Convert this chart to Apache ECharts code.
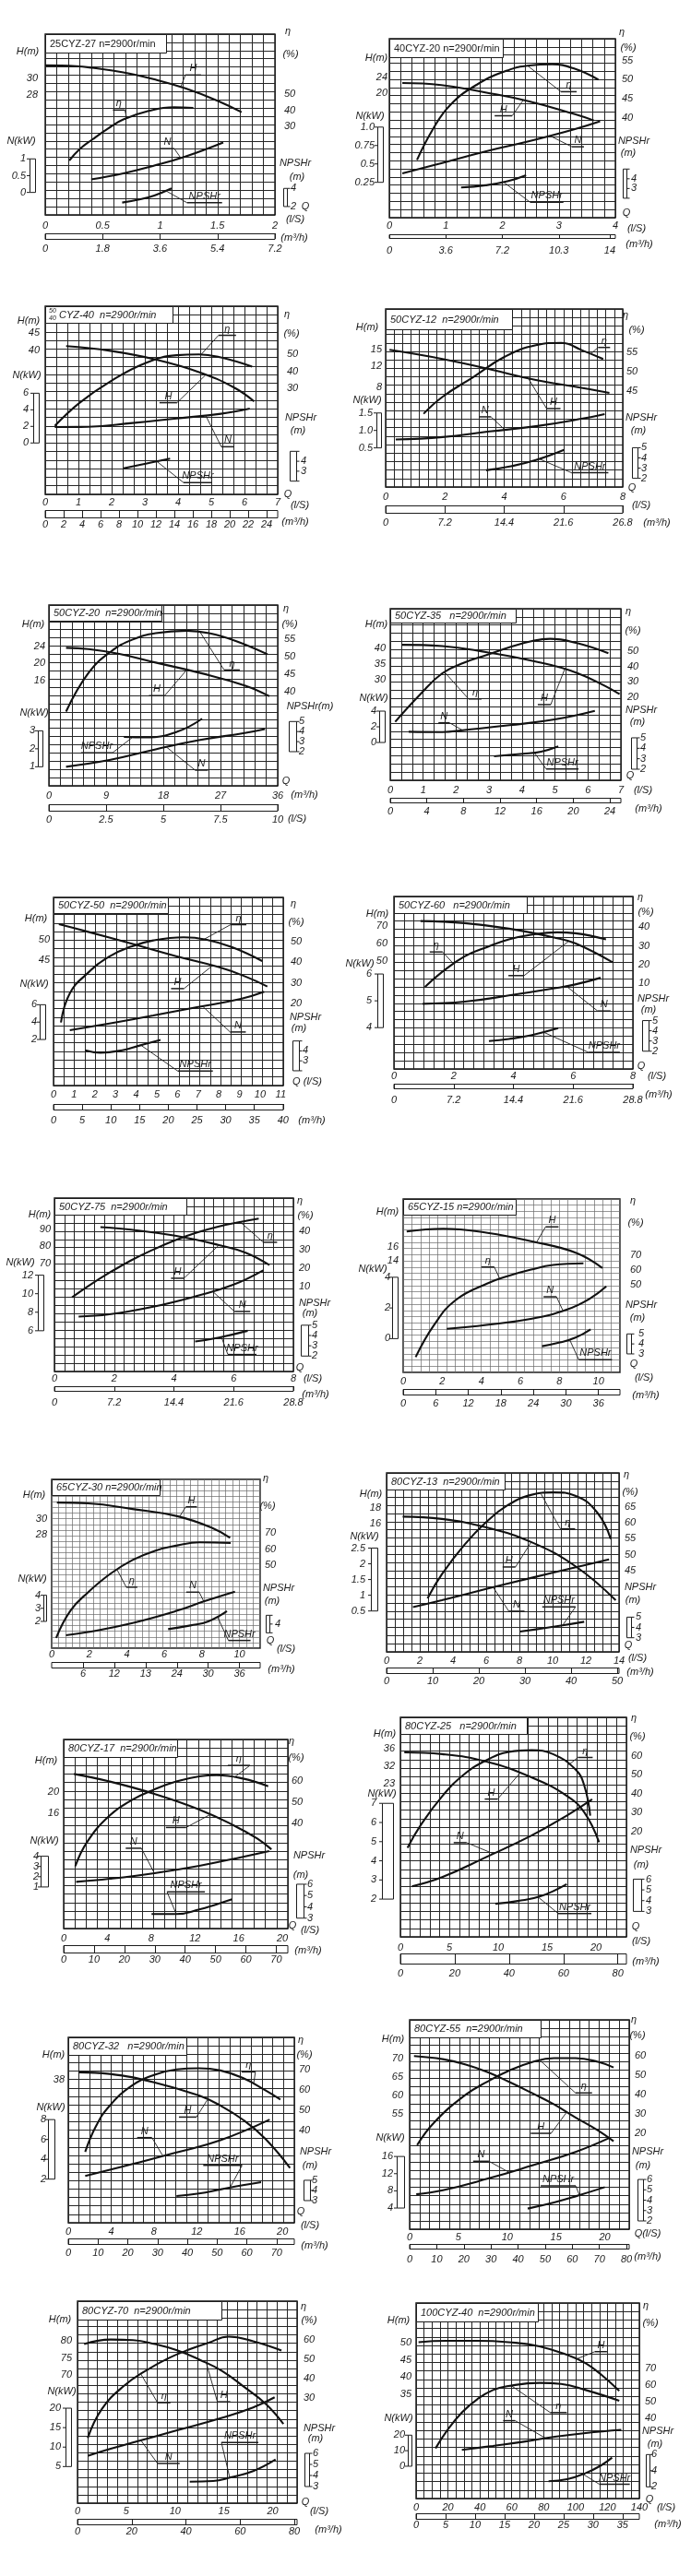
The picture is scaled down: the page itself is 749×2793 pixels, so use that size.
<!DOCTYPE html>
<html><head><meta charset="utf-8">
<script src="https://cdn.jsdelivr.net/npm/echarts@6/dist/echarts.min.js"></script>
<style>html,body{margin:0;padding:0;background:#fff}#c{width:749px;height:2793px}</style>
</head><body><div id="c"></div>
<script>
// ================= DATA =================
const TITLES=['25CYZ-27 n=2900r/min','40CYZ-20 n=2900r/min','CYZ-40  n=2900r/min','50CYZ-12  n=2900r/min','50CYZ-20  n=2900r/min','50CYZ-35   n=2900r/min','50CYZ-50  n=2900r/min','50CYZ-60   n=2900r/min','50CYZ-75  n=2900r/min','65CYZ-15 n=2900r/min','65CYZ-30 n=2900r/min','80CYZ-13  n=2900r/min','80CYZ-17  n=2900r/min','80CYZ-25   n=2900r/min','80CYZ-32   n=2900r/min','80CYZ-55  n=2900r/min','80CYZ-70  n=2900r/min','100CYZ-40  n=2900r/min'];

// 1 25CYZ-27
const q1=[0,0.5,1,1.5,2], m1=[0,1.8,3.6,5.4,7.2], hk1=[28,30], ek1=[30,40,50], nk1=[0,0.5,1], pk1=[2,4];
const H1=[[0,31.6],[0.27,31.5],[0.41,31.3],[0.68,30.75],[0.95,29.9],[1.22,28.8],[1.5,27.3],[1.71,25.9]];
const E1=[[0.21,9],[0.3,16],[0.41,22],[0.55,29],[0.68,34.4],[0.9,39.7],[1.12,42],[1.29,41.6]];
const N1=[[0.4,0.39],[0.68,0.57],[0.95,0.8],[1.22,1.07],[1.55,1.49]];
const P1=[[0.67,2.44],[0.82,2.78],[0.95,3.22],[1.1,4.0]];
// 2 40CYZ-20
const q2=[0,1,2,3,4], m2=[[0,'0'],[1,'3.6'],[2,'7.2'],[3,'10.3'],[3.9,'14']], hk2=[20,24], ek2=[40,45,50,55], nk2=[0.25,0.5,0.75,[1,'1.0']], pk2=[2,3,4,5];
const H2=[[0.23,22.5],[0.92,22.0],[1.7,20.2],[2.48,18.0],[3.27,14.9],[3.62,13.3]];
const E2=[[0.49,29],[0.77,37],[1.08,43.4],[1.55,48.7],[2.09,52.4],[2.48,53.7],[2.88,54.0],[3.27,52.9],[3.7,50.0]];
const N2=[[0.23,0.37],[0.92,0.51],[1.7,0.67],[2.48,0.81],[3.27,0.97],[3.73,1.08]];
const P2=[[1.27,3.1],[1.7,3.33],[2.09,3.74],[2.42,4.37]];
// 3 50/40CYZ-40
const q3=[0,1,2,3,4,5,6,7], m3=[0,2,4,6,8,10,12,14,16,18,20,22,24], hk3=[40,45], ek3=[30,40,50], nk3=[0,2,4,6], pk3=[2,3,4,5];
const H3=[[0.63,41.2],[1.96,39.8],[3.29,37.3],[4.63,33.5],[5.69,28.9],[6.29,24.8]];
const E3=[[0.29,8],[1.03,21.5],[1.96,34.1],[3.03,45],[3.96,49.5],[4.63,50],[5.29,48.2],[6.23,42.8]];
const N3=[[0.29,1.93],[1.29,1.95],[2.63,2.41],[3.96,2.96],[5.29,3.52],[6.16,4.15]];
const P3=[[2.36,3.3],[3.03,3.76],[3.76,4.26]];
// 4 50CYZ-12
const q4=[0,2,4,6,8], m4=[[0,'0'],[2,'7.2'],[4,'14.4'],[6,'21.6'],[8,'26.8']], hk4=[8,12,15], ek4=[45,50,55], nk4=[0.5,[1,'1.0'],1.5], pk4=[2,3,4,5];
const H4=[[0.13,15],[1.92,13.3],[3.5,11.4],[5.07,9.4],[6.65,7.9],[7.55,7.0]];
const E4=[[1.28,39],[1.92,43.4],[2.97,48.6],[4.02,53.8],[5.07,56.8],[5.92,57.4],[6.65,55.4],[7.34,53.2]];
const N4=[[0.34,0.74],[1.92,0.81],[3.5,0.97],[5.07,1.12],[6.65,1.34],[7.39,1.47]];
const P4=[[3.39,2.79],[4.23,3.18],[5.07,3.79],[6.02,4.79]];
// 5 50CYZ-20 (primary x in m3/h)
const q5=[0,9,18,27,36], m5=[0,2.5,5,7.5,10], hk5=[16,20,24], ek5=[40,45,50,55], nk5=[1,2,3], pk5=[2,3,4,5];
const H5=[[2.7,23.6],[6.2,23.3],[11.1,22.2],[16.8,20.2],[23.8,17.8],[30.8,14.9],[34.7,12.4]];
const E5=[[2.7,34.3],[6.2,45.2],[9.7,51.3],[13.2,54.8],[16.8,56.6],[21.7,57.3],[25.2,56.6],[29.4,54.4],[34.4,50.6]];
const N5=[[2.7,1.0],[9.7,1.39],[16.8,1.97],[23.8,2.49],[30.8,2.88],[34.0,3.1]];
const P5=[[11.8,3.47],[15.3,3.42],[20.2,3.99],[24.1,5.28]];
// 6 50CYZ-35
const q6=[0,1,2,3,4,5,6,7], m6=[0,4,8,12,16,20,24], hk6=[30,35,40], ek6=[20,30,40,50], nk6=[0,2,4], pk6=[2,3,4,5];
const H6=[[0.35,41.0],[1.58,40.6],[2.94,38.6],[4.31,35.9],[5.67,32.0],[6.96,25.3]];
const E6=[[0.15,4],[0.9,21.6],[1.58,35.6],[2.26,42.6],[2.94,47.6],[3.62,52.6],[4.31,56.6],[4.85,58],[5.67,55.2],[6.62,48.6]];
const N6=[[0.56,1.37],[1.58,1.33],[2.26,1.6],[3.62,2.2],[4.99,2.94],[6.21,4.04]];
const P6=[[3.15,3.24],[4.03,3.47],[4.58,3.68],[5.1,4.18]];
// 7 50CYZ-50
const q7=[0,1,2,3,4,5,6,7,8,9,10,11], m7=[0,5,10,15,20,25,30,35,40], hk7=[45,50], ek7=[20,30,40,50], nk7=[2,4,6], pk7=[2,3,4,5];
const H7=[[0.26,53.7],[1.64,51.9],[3.76,49.0],[5.89,46.0],[8.0,43.3],[9.3,41.0],[10.35,38.6]];
const E7=[[0.36,10.7],[0.79,24.9],[1.64,34.6],[2.7,42.8],[3.76,47.6],[4.83,50.6],[6.3,52.1],[7.38,51.0],[8.65,47.3],[10.1,40.6]];
const N7=[[0.79,3.06],[2.7,3.84],[4.83,4.76],[6.95,5.72],[9.07,6.67],[10.2,7.49]];
const P7=[[1.53,4.07],[2.27,3.82],[3.33,4.07],[4.17,4.54],[5.18,5.1]];
// 8 50CYZ-60
const q8=[0,2,4,6,8], m8=[0,7.2,14.4,21.6,28.8], hk8=[50,60,70], ek8=[10,20,30,40], nk8=[4,5,6], pk8=[2,3,4,5];
const H8=[[0.89,73],[2.37,71.8],[3.85,68.6],[5.33,63.6],[6.07,60.1],[7.32,49.1]];
const E8=[[1.04,8],[1.63,16.2],[2.37,24.4],[3.11,29.3],[3.85,33.4],[4.59,35.9],[5.47,37.2],[6.07,36.7],[7.1,33.4]];
const N8=[[0.96,4.89],[2.37,4.97],[3.85,5.2],[5.33,5.46],[6.07,5.61],[6.92,5.86]];
const P8=[[3.18,2.99],[3.85,3.2],[4.59,3.56],[5.5,4.25]];
// 9 50CYZ-75
const q9=[0,2,4,6,8], m9=[0,7.2,14.4,21.6,28.8], hk9=[70,80,90], ek9=[10,20,30,40], nk9=[6,8,10,12], pk9=[2,3,4,5];
const H9=[[1.54,91.1],[2.57,89.6],[4.04,86.1],[5.51,80.7],[6.4,76.3],[7.2,69.1]];
const E9=[[0.59,4.2],[1.1,10],[1.84,17.5],[2.57,24.2],[3.31,30],[4.04,35],[4.78,39.2],[5.51,42.5],[6.25,45],[6.84,46.7]];
const N9=[[0.81,7.53],[1.84,7.77],[3.31,8.6],[4.78,9.77],[5.96,10.93],[6.99,12.53]];
const P9=[[4.71,3.41],[5.51,3.8],[6.47,4.46]];
// 10 65CYZ-15
const q10=[0,2,4,6,8,10], m10=[0,6,12,18,24,30,36], hk10=[14,16], ek10=[50,60,70], nk10=[0,2,4], pk10=[3,4,5];
const H10=[[0.18,18.2],[2.05,18.6],[4.32,18.0],[6.6,16.76],[8.86,15.1],[10.2,12.9]];
const E10=[[0.64,0.6],[1.59,22.5],[2.68,39.2],[4.32,50.6],[5.41,55.8],[6.55,60],[7.68,63.1],[9.23,64.2]];
const N10=[[2.23,0.64],[4.27,0.9],[6.6,1.3],[8.4,1.9],[9.55,2.6],[10.4,3.4]];
const P10=[[7.11,3.77],[8.02,4.14],[8.82,4.63],[9.6,5.46]];
// 11 65CYZ-30
const q11=[0,2,4,6,8,10], m11=[[1.67,'6'],[3.33,'12'],[5,'13'],[6.67,'24'],[8.33,'30'],[10,'36']], hk11=[28,30], ek11=[50,60,70], nk11=[2,3,4], pk11=[3,4,5];
const H11=[[0.28,32.0],[1.94,31.9],[4.3,31.2],[6.68,30.3],[8.58,28.8],[9.5,27.6]];
const E11=[[0.24,5.2],[1.0,22],[1.94,33.4],[3.13,44.9],[4.31,53.4],[5.5,59.1],[6.68,62.4],[7.87,64.3],[9.53,63.9]];
const N11=[[0.76,0.94],[1.94,1.18],[4.31,1.88],[6.68,2.82],[8.1,3.53],[9.76,4.28]];
const P11=[[6.2,3.42],[7.39,3.84],[8.34,4.3],[9.33,5.46]];
// 12 80CYZ-13
const q12=[0,2,4,6,8,10,12,14], m12=[0,10,20,30,40,50], hk12=[16,18], ek12=[45,50,55,60,65], nk12=[0.5,1,1.5,2,2.5], pk12=[3,4,5];
const H12=[[0.97,16.9],[3.33,16.6],[6.0,15.5],[8.7,13.6],[11.4,10.4],[13.8,6.0]];
const E12=[[2.47,36.3],[3.33,43.8],[4.68,53],[6.0,60.2],[7.3,65.5],[8.7,68.7],[10.05,69.5],[11.4,68.4],[12.7,63.1],[13.5,54.9]];
const N12=[[1.59,0.62],[3.33,0.84],[6.0,1.2],[8.7,1.55],[11.4,1.89],[13.4,2.14]];
const P12=[[8.04,3.6],[9.25,3.87],[10.6,4.2],[11.9,4.55]];
// 13 80CYZ-17
const q13=[0,4,8,12,16,20], m13=[0,10,20,30,40,50,60,70], hk13=[16,20], ek13=[40,50,60], nk13=[1,2,3,4], pk13=[3,4,5,6];
const H13=[[0.94,23.3],[4.2,21.9],[8.3,19.6],[12.4,16.7],[15.6,13.7],[17.7,11.3],[19.0,9.3]];
const E13=[[1.06,19.7],[2.16,31.3],[4.2,43.6],[6.24,50.9],[8.3,55.9],[10.3,59.6],[12.4,62],[14.0,62.6],[16.4,61],[18.7,57.4]];
const N13=[[1.14,1.5],[4.2,1.8],[8.3,2.35],[12.4,3.07],[16.5,3.97],[18.8,4.5]];
const P13=[[8.04,3.36],[10.3,3.36],[12.4,3.77],[14.0,4.23],[15.4,4.66]];
// 14 80CYZ-25
const q14=[0,5,10,15,20], m14=[0,20,40,60,80], hk14=[[28,'23'],32,36], ek14=[20,30,40,50,60], nk14=[2,3,4,5,6,7], pk14=[3,4,5,6];
const H14=[[0.4,35.2],[4.27,34.8],[8.8,33.1],[13.4,29.5],[17.0,25.3],[18.8,21.5],[20.3,14.7]];
const E14=[[0.73,11.4],[2.0,22.8],[4.27,38.6],[6.55,50.3],[8.8,57.6],[11.1,62],[13.4,62.9],[15.6,60.8],[17.9,52.7],[18.8,44.1],[19.4,28.4]];
const N14=[[1.18,2.67],[4.27,3.15],[8.8,4.2],[13.4,5.32],[17.0,6.36],[19.6,7.21]];
const P14=[[9.7,3.71],[12.0,3.97],[14.3,4.4],[17.0,5.54]];
// 15 80CYZ-32
const q15=[0,4,8,12,16,20], m15=[0,10,20,30,40,50,60,70], hk15=[38], ek15=[40,50,60,70], nk15=[2,4,6,8], pk15=[3,4,5];
const H15=[[0.95,38.9],[3.86,38.7],[8.0,37.7],[12.2,36.1],[14.2,34.9],[16.3,33.2],[18.4,30.9],[20.7,27.4]];
const E15=[[1.58,29.4],[2.61,42.3],[3.86,52.1],[5.93,62],[8.0,67.3],[10.1,70],[12.2,70.6],[14.2,69.5],[16.3,65.8],[18.4,59.7],[19.8,55.2]];
const N15=[[1.58,2.32],[5.93,3.5],[10.1,4.68],[14.2,5.92],[18.8,8.0]];
const P15=[[10.1,3.45],[12.2,3.7],[14.2,4.1],[16.3,4.52],[18.0,4.82]];
// 16 80CYZ-55
const q16=[0,5,10,15,20], m16=[0,10,20,30,40,50,60,70,80], hk16=[55,60,65,70], ek16=[20,30,40,50,60], nk16=[4,8,12,16], pk16=[2,3,4,5,6];
const H16=[[0.45,70.6],[3.4,69.75],[5.68,68.35],[7.95,66.3],[10.2,63.65],[12.5,60.7],[14.8,57.6],[17.0,54.1],[19.3,50.6],[20.9,47.7]];
const E16=[[0.77,14],[2.5,25.6],[5.68,39.8],[7.95,46.7],[10.2,52.5],[12.5,56.8],[14.8,58.9],[17.0,58.9],[19.3,57],[20.9,54.1]];
const N16=[[0.68,7.2],[3.4,8.14],[7.95,10.8],[12.5,13.86],[17.0,17.07],[20.45,20.3]];
const P16=[[12.1,3.19],[14.8,3.78],[17.0,4.37],[20.0,5.26]];
// 17 80CYZ-70
const q17=[0,5,10,15,20], m17=[0,20,40,60,80], hk17=[70,75,80], ek17=[30,40,50,60], nk17=[5,10,15,20], pk17=[3,4,5,6];
const H17=[[0.68,79.1],[3.4,80.45],[5.68,80.3],[7.95,79.1],[10.2,77.3],[12.5,74.5],[14.8,71.2],[17.0,66.6],[19.3,61.4],[21.1,55.5]];
const E17=[[1.05,9.3],[2.5,24.4],[4.77,36.4],[7.05,44.4],[9.32,50.7],[11.6,55.5],[13.4,58.7],[15.5,61.9],[18.0,59.5],[20.9,54.7]];
const N17=[[1.05,7.77],[3.4,9.58],[5.68,11.16],[10.2,14.3],[14.8,17.5],[18.0,20.2],[20.2,22.8]];
const P17=[[11.5,3.44],[13.9,3.5],[15.7,3.83],[18.0,4.39],[20.3,5.44]];
// 18 100CYZ-40
const q18=[0,20,40,60,80,100,120,140], m18=[0,5,10,15,20,25,30,35], hk18=[35,40,45,50], ek18=[40,50,60,70], nk18=[0,10,20], pk18=[2,4,6];
const H18=[[1.55,50.2],[19,50.6],[38.4,50.6],[57.9,50.2],[77.3,49],[96.7,46.1],[106.4,44],[116,40.7],[127.4,35.9]];
const E18=[[12.2,21.9],[19,32],[28.7,43.5],[38.4,51.5],[48.2,57],[57.9,59.4],[77.3,61.3],[90.9,60.7],[106.4,57],[127.4,50.6]];
const N18=[[28.7,10.5],[48.2,13.1],[67.6,15.8],[87,19],[106.4,21.4],[128.7,23.4]];
const P18=[[83.1,2.69],[94.8,2.95],[106.4,3.71],[116.1,4.67],[122.9,5.62]];

const CH=[
 {q:q1,m:m1,hk:hk1,ek:ek1,nk:nk1,pk:pk1,H:H1,E:E1,N:N1,P:P1},
 {q:q2,m:m2,hk:hk2,ek:ek2,nk:nk2,pk:pk2,H:H2,E:E2,N:N2,P:P2},
 {q:q3,m:m3,hk:hk3,ek:ek3,nk:nk3,pk:pk3,H:H3,E:E3,N:N3,P:P3},
 {q:q4,m:m4,hk:hk4,ek:ek4,nk:nk4,pk:pk4,H:H4,E:E4,N:N4,P:P4},
 {q:q5,m:m5,hk:hk5,ek:ek5,nk:nk5,pk:pk5,H:H5,E:E5,N:N5,P:P5},
 {q:q6,m:m6,hk:hk6,ek:ek6,nk:nk6,pk:pk6,H:H6,E:E6,N:N6,P:P6},
 {q:q7,m:m7,hk:hk7,ek:ek7,nk:nk7,pk:pk7,H:H7,E:E7,N:N7,P:P7},
 {q:q8,m:m8,hk:hk8,ek:ek8,nk:nk8,pk:pk8,H:H8,E:E8,N:N8,P:P8},
 {q:q9,m:m9,hk:hk9,ek:ek9,nk:nk9,pk:pk9,H:H9,E:E9,N:N9,P:P9},
 {q:q10,m:m10,hk:hk10,ek:ek10,nk:nk10,pk:pk10,H:H10,E:E10,N:N10,P:P10},
 {q:q11,m:m11,hk:hk11,ek:ek11,nk:nk11,pk:pk11,H:H11,E:E11,N:N11,P:P11},
 {q:q12,m:m12,hk:hk12,ek:ek12,nk:nk12,pk:pk12,H:H12,E:E12,N:N12,P:P12},
 {q:q13,m:m13,hk:hk13,ek:ek13,nk:nk13,pk:pk13,H:H13,E:E13,N:N13,P:P13},
 {q:q14,m:m14,hk:hk14,ek:ek14,nk:nk14,pk:pk14,H:H14,E:E14,N:N14,P:P14},
 {q:q15,m:m15,hk:hk15,ek:ek15,nk:nk15,pk:pk15,H:H15,E:E15,N:N15,P:P15},
 {q:q16,m:m16,hk:hk16,ek:ek16,nk:nk16,pk:pk16,H:H16,E:E16,N:N16,P:P16},
 {q:q17,m:m17,hk:hk17,ek:ek17,nk:nk17,pk:pk17,H:H17,E:E17,N:N17,P:P17},
 {q:q18,m:m18,hk:hk18,ek:ek18,nk:nk18,pk:pk18,H:H18,E:E18,N:N18,P:P18}
];

// ================= LAYOUT (pixels, axis ranges, annotations) =================
const K=1/3.6;
const LAY=[
 {r:[49,298,37,233],c:20,w:22,q:[0,2],h:[13.4,35.4],e:[-24.7,87.3],n:[-0.67,4.72],p:[1.08,21.0],hx:41,nx:28,ex:308,px:315,nb:[32,38],pb:[307,311],qy:245,bar:[253,259],my:270,tb:[49,37,180,57],mk:K,up:1,
  nm:[['H(m)',30,56],['N(kW)',23,153],['η',312,34],['(%)',315,59],['NPSHr',320,177],['(m)',322,192],['Q',331,224],['(l/S)',320,238],['(m³/h)',319,258]],
  co:[['H',1.18,5,-13,17,1],['E',0.71,-2,-9,13,-1],['N',1.18,-7,-10,15,-1],['P',1.05,23,13,38,1]]},
 {r:[422,667,42,236],c:20,w:22,q:[0,4],h:[-10.6,33.4],e:[13.9,60.7],n:[-0.23,2.2],p:[0,18.4],hx:420,nx:406,ex:674,px:684,nb:[409,415],pb:[675,679],qy:245,bar:[254,258],my:272,tb:[422,42,545,62],mk:1,up:1,
  nm:[['H(m)',408,63],['N(kW)',401,126],['η',674,35],['(%)',681,52],['NPSHr',687,153],['(m)',681,166],['Q',679,231],['(l/S)',690,248],['(m³/h)',693,265]],
  co:[['E',2.45,36,28,17,1],['H',2.37,-12,17,19,-1],['N',2.84,24,12,13,1],['P',2.02,29,22,36,1]]},
 {r:[49,301,332,536],c:21,w:22,q:[0,7],h:[-2.7,53],e:[-32.2,78.3],n:[-6.2,16.5],p:[0.67,19.6],hx:43,nx:31,ex:311,px:326,nb:[36,42],pb:[314,321],qy:545,bar:[553,561],my:569,tb:[49,332,187,350],mk:K,frac:['50','40'],
  nm:[['H(m)',31,348],['N(kW)',29,407],['η',311,341],['(%)',316,362],['NPSHr',326,453],['(m)',323,467],['Q',312,536],['(l/S)',325,548],['(m³/h)',320,566]],
  co:[['E',4.69,19,-21,19,1],['H',4.83,-31,30,19,-1],['N',4.83,17,34,14,1],['P',3.36,29,23,31,1]]},
 {r:[418,675,335,528],c:28,w:21,q:[0,8],h:[-10.5,22.6],e:[20,66.2],n:[-0.62,4.48],p:[1.15,18.6],hx:414,nx:404,ex:679,px:695,nb:[408,413],pb:[685,691],qy:539,bar:[548,556],my:567,tb:[418,335,555,357],mk:1,
  nm:[['H(m)',398,355],['N(kW)',398,434],['η',678,342],['(%)',690,358],['NPSHr',695,453],['(m)',692,467],['Q',685,529],['(l/S)',695,548],['(m³/h)',712,567]],
  co:[['E',6.92,8,-7,13,1],['H',4.81,20,33,15,1],['N',4.02,-15,-14,13,-1],['P',5.18,35,15,40,1]]},
 {r:[53,301,656,852],c:20,w:22,q:[0,36],h:[-8.3,33.5],e:[13.2,64.6],n:[-0.06,10],p:[-1.4,16.6],hx:49,nx:38,ex:308,px:324,nb:[41,46],pb:[313,321],qy:863,bar:[872,879],my:889,tb:[53,656,175,673],mk:3.6,
  nm:[['H(m)',36,677],['N(kW)',37,773],['η',310,660],['(%)',314,677],['NPSHr(m)',336,766],['Q',310,847],['(m³/h)',330,862],['(l/S)',322,888]],
  co:[['E',23.8,26,41,17,1],['H',21.7,-24,28,17,-1],['N',18.5,31,25,14,1],['P',13.2,-22,17,34,-1]]},
 {r:[423,673,660,846],c:21,w:21,q:[0,7],h:[-2.2,52.5],e:[-34,77.6],n:[-4.82,17.06],p:[0.94,17.35],hx:418,nx:408,ex:680,px:694,nb:[411,417],pb:[684,690],qy:857,bar:[865,870],my:880,tb:[423,660,559,675],mk:K,
  nm:[['H(m)',408,677],['N(kW)',405,757],['η',681,663],['(%)',686,684],['NPSHr',695,770],['(m)',691,783],['Q',683,841],['(l/S)',697,857],['(m³/h)',703,877]],
  co:[['E',1.65,26,29,14,1],['H',5.29,-15,38,14,-1],['N',2.19,-14,-8,12,-1],['P',4.37,13,18,35,1]]},
 {r:[58,307,973,1177],c:22,w:22,q:[0,11.12],h:[14.6,60.2],e:[-19.9,71.5],n:[-3.3,18.35],p:[0.51,19.46],hx:54,nx:40,ex:315,px:328,nb:[43,49],pb:[317,324],qy:1187,bar:[1197,1203],my:1215,tb:[58,973,182,990],mk:K,
  nm:[['H(m)',39,996],['N(kW)',37,1067],['η',318,980],['(%)',321,1000],['NPSHr',331,1103],['(m)',324,1115],['Q (l/S)',333,1173],['(m³/h)',338,1215]],
  co:[['E',7.28,29,-16,17,1],['H',7.7,-31,25,14,-1],['N',7.21,30,28,17,1],['P',4.23,40,28,38,1]]},
 {r:[427,686,972,1159],c:24,w:21,q:[0,8],h:[-12.5,87.2],e:[-35.9,56.4],n:[2.46,8.89],p:[0.26,17.16],hx:420,nx:403,ex:692,px:707,nb:[409,415],pb:[696,703],qy:1167,bar:[1175,1180],my:1193,tb:[427,972,571,990],mk:K,
  nm:[['H(m)',409,991],['N(kW)',390,1045],['η',694,973],['(%)',700,989],['NPSHr',708,1083],['(m)',703,1095],['Q',695,1156],['(l/S)',712,1167],['(m³/h)',714,1187]],
  co:[['E',2.0,-12,-13,14,-1],['H',5.84,-48,37,17,-1],['N',5.77,34,27,14,1],['P',5.0,49,22,34,1]]},
 {r:[59,318,1299,1487],c:24,w:21,q:[0,8],h:[7.5,107.9],e:[-35.8,57.8],n:[1.6,20.33],p:[0.5,17.37],hx:55,nx:36,ex:324,px:338,nb:[41,47],pb:[326,334],qy:1495,bar:[1503,1508],my:1521,tb:[59,1299,202,1317],mk:K,
  nm:[['H(m)',43,1317],['N(kW)',22,1369],['η',325,1302],['(%)',331,1318],['NPSHr',341,1413],['(m)',336,1424],['Q',325,1483],['(l/S)',339,1495],['(m³/h)',342,1512]],
  co:[['E',6.22,25,22,15,1],['H',5.51,-38,36,14,-1],['N',5.29,24,22,17,1],['P',5.59,7,19,31,1]]},
 {r:[437,672,1300,1488],c:25,w:28,q:[0,11.1],h:[-2.2,22.9],e:[-9.8,107.9],n:[-2.2,9.1],p:[1.15,18.5],hx:432,nx:423,ex:683,px:692,nb:[425,431],pb:[679,684],qy:1498,bar:[1506,1512],my:1522,tb:[437,1300,559,1317],mk:K,light:1,
  nm:[['H(m)',420,1314],['N(kW)',404,1376],['η',686,1302],['(%)',689,1326],['NPSHr',695,1415],['(m)',691,1429],['Q',687,1479],['(l/S)',698,1494],['(m³/h)',700,1513]],
  co:[['H',6.82,10,-17,14,1],['E',4.95,-6,-13,14,-1],['N',8.18,-7,-15,14,-1],['P',8.52,10,22,36,1]]},
 {r:[56,282,1604,1787],c:30,w:30,q:[0,11.1],h:[13.8,34.9],e:[-1.2,103.3],n:[-0.05,12.87],p:[1.25,20.5],hx:51,nx:44,ex:287,px:298,nb:[47,50],pb:[288,292],qy:1794,bar:[1802,1808],my:1815,tb:[56,1604,173,1621],mk:1,light:1,
  nm:[['H(m)',37,1621],['N(kW)',35,1712],['η',288,1603],['(%)',290,1633],['NPSHr',302,1722],['(m)',295,1736],['Q',293,1779],['(l/S)',310,1788],['(m³/h)',305,1810]],
  co:[['H',6.8,7,-11,12,1],['E',3.48,10,19,12,1],['N',8.1,-5,-10,14,-1],['P',8.82,12,26,24,1]]},
 {r:[419,671,1597,1791],c:28,w:22,q:[0,14],h:[-0.72,22.6],e:[19.5,75.6],n:[-0.8,4.89],p:[1.63,19.0],hx:413,nx:396,ex:677,px:689,nb:[402,409],pb:[679,684],qy:1801,bar:[1808,1814],my:1823,tb:[419,1597,547,1615],mk:K,
  nm:[['H(m)',402,1620],['N(kW)',395,1666],['η',679,1599],['(%)',683,1618],['NPSHr',694,1721],['(m)',686,1735],['Q',681,1784],['(l/S)',691,1798],['(m³/h)',694,1813]],
  co:[['E',9.3,21,38,16,1],['H',8.71,-17,27,14,-1],['N',6.42,17,26,17,1],['P',10.6,14,-20,36,-1]]},
 {r:[69,312,1886,2091],c:20,w:22,q:[0,20.5],h:[-5.4,29.7],e:[-9.6,79.4],n:[-3.06,15.4],p:[2.08,18.8],hx:64,nx:42,ex:316,px:333,nb:[44,52],pb:[321,329],qy:2102,bar:[2109,2117],my:2125,tb:[69,1886,192,1905],mk:K,
  nm:[['H(m)',50,1909],['N(kW)',48,1996],['η',316,1888],['(%)',321,1906],['NPSHr',335,2012],['(m)',326,2033],['Q',317,2088],['(l/S)',336,2093],['(m³/h)',334,2115]],
  co:[['E',15.6,17,-13,24,-1],['H',13.4,-26,14,22,-1],['N',8.29,-14,-27,17,-1],['P',10.3,-10,-24,41,1]]},
 {r:[434,679,1862,2100],c:23,w:26,q:[0,23.1],h:[-6.9,43.2],e:[-35.5,80.2],n:[0.03,11.49],p:[0.63,21.06],hx:428,nx:408,ex:684,px:700,nb:[414,426],pb:[686,695],qy:2112,bar:[2118,2129],my:2140,tb:[434,1862,571,1880],mk:K,
  nm:[['H(m)',417,1880],['N(kW)',414,1945],['η',687,1863],['(%)',691,1883],['NPSHr',700,2006],['(m)',695,2022],['Q',689,2089],['(l/S)',695,2105],['(m³/h)',700,2127]],
  co:[['E',17.2,10,-8,16,1],['H',12.2,-24,28,14,-1],['N',9.5,-29,-12,14,-1],['P',14.05,22,18,36,1]]},
 {r:[74,319,2209,2410],c:21,w:22,q:[0,21.1],h:[20.8,43.1],e:[-5.5,85.8],n:[-2.4,16.29],p:[0.82,19.06],hx:70,nx:50,ex:324,px:338,nb:[52,59],pb:[329,336],qy:2420,bar:[2427,2433],my:2443,tb:[74,2209,202,2228],mk:K,
  nm:[['H(m)',58,2228],['N(kW)',55,2285],['η',326,2212],['(%)',330,2228],['NPSHr',342,2333],['(m)',336,2348],['Q',326,2398],['(l/S)',336,2413],['(m³/h)',341,2435]],
  co:[['E',17.3,2,-13,15,-1],['H',13.0,-12,19,19,-1],['N',8.84,-12,-20,16,-1],['P',15.1,13,-24,42,-1]]},
 {r:[444,682,2190,2417],c:22,w:25,q:[0,22.5],h:[24.1,80.3],e:[-29.5,78.7],n:[-0.93,47.8],p:[1.2,21.4],hx:437,nx:426,ex:688,px:701,nb:[430,438],pb:[691,697],qy:2426,bar:[2433,2438],my:2450,tb:[444,2190,586,2209],mk:K,
  nm:[['H(m)',426,2211],['N(kW)',423,2318],['η',687,2190],['(%)',691,2207],['NPSHr',702,2333],['(m)',697,2348],['Q(l/S)',702,2422],['(m³/h)',702,2447]],
  co:[['E',13.4,38,35,18,1],['H',16.1,-17,23,22,-1],['N',10.2,-22,-12,17,-1],['P',17.4,-4,-10,38,-1]]},
 {r:[84,322,2495,2714],c:22,w:24,q:[0,22.5],h:[32.1,91.8],e:[-24.5,80.3],n:[-4.4,47.5],p:[1.5,19.75],hx:78,nx:66,ex:329,px:339,nb:[71,77],pb:[330,335],qy:2723,bar:[2731,2737],my:2745,tb:[84,2495,240,2515],mk:K,
  nm:[['H(m)',65,2515],['N(kW)',67,2593],['η',329,2501],['(%)',335,2516],['NPSHr',346,2633],['(m)',342,2644],['Q',331,2713],['(l/S)',346,2723],['(m³/h)',356,2743]],
  co:[['E',6.5,18,31,14,1],['H',13.2,12,42,14,1],['N',6.5,18,25,24,1],['P',15.6,-9,-38,40,1]]},
 {r:[451,693,2497,2709],c:28,w:23,q:[0,140],h:[4.3,61.7],e:[-8.3,109.4],n:[-20.8,105.1],p:[0.55,24.8],hx:446,nx:439,ex:699,px:706,nb:[442,446],pb:[700,704],qy:2719,bar:[2725,2731],my:2738,tb:[451,2497,583,2517],mk:3.7,
  nm:[['H(m)',432,2516],['N(kW)',432,2622],['η',700,2500],['(%)',705,2519],['NPSHr',713,2636],['(m)',710,2650],['Q',704,2710],['(l/S)',722,2719],['(m³/h)',724,2737]],
  co:[['H',100.6,20,-8,13,1],['E',59.8,42,29,18,1],['N',81.2,-33,-19,13,-1],['P',104.5,18,11,33,1]]}
];

// ================= BUILD =================
const FONT="'Liberation Sans','Arial','DejaVu Sans',sans-serif";
const FS=11, INK='#1c1c1c';
const LAB={color:INK,fontSize:FS,fontStyle:'italic',fontFamily:FONT};
function norm(list,k){k=k||1;return list.map(v=>Array.isArray(v)?v:[v*k,String(v)]);}
function fmt(pairs){return function(v){for(const [p,s] of pairs){if(Math.abs(p-v)<=1e-9+1e-7*Math.abs(p))return s;}return '';};}
function interp(d,x){if(x<=d[0][0])return d[0][1];for(let i=1;i<d.length;i++){if(x<=d[i][0]){const t=(x-d[i-1][0])/(d[i][0]-d[i-1][0]);return d[i-1][1]+t*(d[i][1]-d[i-1][1]);}}return d[d.length-1][1];}
const KEYS=['H','E','N','P'];
const grids=[],xAxes=[],yAxes=[],series=[];
const hid={axisLine:{show:false,onZero:false},axisTick:{show:false},axisLabel:{show:false}};
CH.forEach((c,i)=>{
 const L=LAY[i];const [l,r,t,b]=L.r;
 grids.push({left:l,top:t,width:r-l,height:b-t,show:true,borderColor:'#111',borderWidth:1.4,backgroundColor:'transparent'});
 const gl={color:L.light?'#6a6a6a':'#262626',width:L.light?0.7:1};
 xAxes.push(Object.assign({gridIndex:i,type:'value',min:0,max:L.c,interval:1,splitLine:{show:true,lineStyle:gl}},hid));
 const qp=norm(c.q);
 xAxes.push({gridIndex:i,type:'value',min:L.q[0],max:L.q[1],position:'bottom',axisLine:{show:false,onZero:false},axisTick:{show:false},splitLine:{show:false},
  axisLabel:Object.assign({customValues:qp.map(p=>p[0]),formatter:fmt(qp),margin:L.qy-b,verticalAlign:'middle'},LAB)});
 const mp=norm(c.m,L.mk);
 xAxes.push({gridIndex:i,type:'value',min:L.q[0],max:L.q[1],position:'bottom',offset:L.bar[0]-b,axisLine:{show:false,onZero:false},
  axisTick:{show:true,customValues:mp.map(p=>p[0]),length:L.bar[1]-L.bar[0],lineStyle:{color:INK,width:1}},splitLine:{show:false},
  axisLabel:Object.assign({customValues:mp.map(p=>p[0]),formatter:fmt(mp),margin:L.my-L.bar[0],verticalAlign:'middle'},LAB)});
 yAxes.push(Object.assign({gridIndex:i,type:'value',min:0,max:L.w,interval:1,splitLine:{show:true,lineStyle:gl}},hid));
 const mkY=(rng,ticks,pos,off)=>{const pr=norm(ticks);return {gridIndex:i,type:'value',min:rng[0],max:rng[1],position:pos,offset:Math.max(0,off),
   axisLine:{show:false,onZero:false},axisTick:{show:false},splitLine:{show:false},
   axisLabel:Object.assign({customValues:pr.map(p=>p[0]),formatter:fmt(pr),margin:2},LAB)};};
 yAxes.push(mkY(L.h,c.hk,'left',l-L.hx-2));
 yAxes.push(mkY(L.e,c.ek,'right',L.ex-r-2));
 yAxes.push(mkY(L.n,c.nk,'left',l-L.nx-2));
 yAxes.push(mkY(L.p,c.pk,'right',L.px-r-2));
 KEYS.forEach((k,j)=>{
  series.push({type:'line',name:TITLES[i]+' '+k,xAxisIndex:3*i+1,yAxisIndex:5*i+1+j,data:c[k],smooth:0.45,showSymbol:false,symbol:'none',silent:true,
   lineStyle:{color:'#111',width:2.1},z:5,animation:false});
 });
});
const chart=echarts.init(document.getElementById('c'));
chart.setOption({animation:false,backgroundColor:'#fff',grid:grids,xAxis:xAxes,yAxis:yAxes,series:series});

// ---- annotations (positions computed through the axes) ----
const G=[];
const F=(st,sz)=>`${st||'italic'} ${sz||FS}px ${FONT}`;
function txt(s,x,y,o){G.push({type:'text',x:x,y:y,z:60,silent:true,style:Object.assign({text:s,fill:INK,font:F(),align:'center',verticalAlign:'middle'},o||{})});}
function ln(x1,y1,x2,y2,w){G.push({type:'line',z:55,silent:true,shape:{x1:x1,y1:y1,x2:x2,y2:y2},style:{stroke:INK,lineWidth:w||1}});}
function rc(x,y,w,h,fill,z,lw){G.push({type:'rect',z:z||55,silent:true,shape:{x:x,y:y,width:w,height:h},style:{fill:fill||'none',stroke:INK,lineWidth:lw||1}});}
CH.forEach((c,i)=>{
 const L=LAY[i];const [l,r,t,b]=L.r;
 // title
 const tb=L.tb;
 rc(tb[0]+0.5,tb[1]+0.5,tb[2]-tb[0],tb[3]-tb[1],'#fff',50,1);
 const ty=(tb[1]+tb[3])/2+0.5;
 if(L.frac){
  txt(L.frac[0],tb[0]+8,ty-4,{font:F('italic',7)});
  txt(L.frac[1],tb[0]+8,ty+4,{font:F('italic',7)});
  txt(TITLES[i],tb[0]+15,ty,{align:'left'});
 } else {
  txt(TITLES[i],tb[0]+5,ty,{align:'left',font:F(L.up?'normal':'italic')});
 }
 // axis names
 L.nm.forEach(n=>txt(n[0],n[1],n[2]));
 // N bracket
 const nys=norm(c.nk).map(p=>chart.convertToPixel({yAxisIndex:5*i+3},p[0]));
 const n1=Math.min(...nys),n2=Math.max(...nys);
 rc(L.nb[0]+0.5,n1,L.nb[1]-L.nb[0],n2-n1,'none',55,1);
 nys.forEach(y=>ln(L.nb[0]-3,y,L.nb[0]+0.5,y,1));
 // NPSHr bracket
 const pys=norm(c.pk).map(p=>chart.convertToPixel({yAxisIndex:5*i+4},p[0]));
 const p1=Math.min(...pys),p2=Math.max(...pys);
 rc(L.pb[0]+0.5,p1,L.pb[1]-L.pb[0],p2-p1,'none',55,1);
 pys.forEach(y=>ln(L.pb[1]+0.5,y,L.pb[1]+3.5,y,1));
 // m3/h bar
 rc(l,L.bar[0]+0.5,r-l,L.bar[1]-L.bar[0],'none',55,1);
 // callouts
 L.co.forEach(co=>{
  const j=KEYS.indexOf(co[0]);const d=c[co[0]];
  const p=chart.convertToPixel({seriesIndex:4*i+j},[co[1],interp(d,co[1])]);
  const jx=p[0]+co[2],jy=p[1]+co[3],ex=jx+co[5]*co[4];
  ln(p[0],p[1],jx,jy,0.9);
  ln(Math.min(jx,ex),jy,Math.max(jx,ex),jy,1.5);
  const label={H:'H',E:'η',N:'N',P:'NPSHr'}[co[0]];
  txt(label,(jx+ex)/2,jy-7);
 });
});
chart.setOption({graphic:{elements:G}});
</script></body></html>
